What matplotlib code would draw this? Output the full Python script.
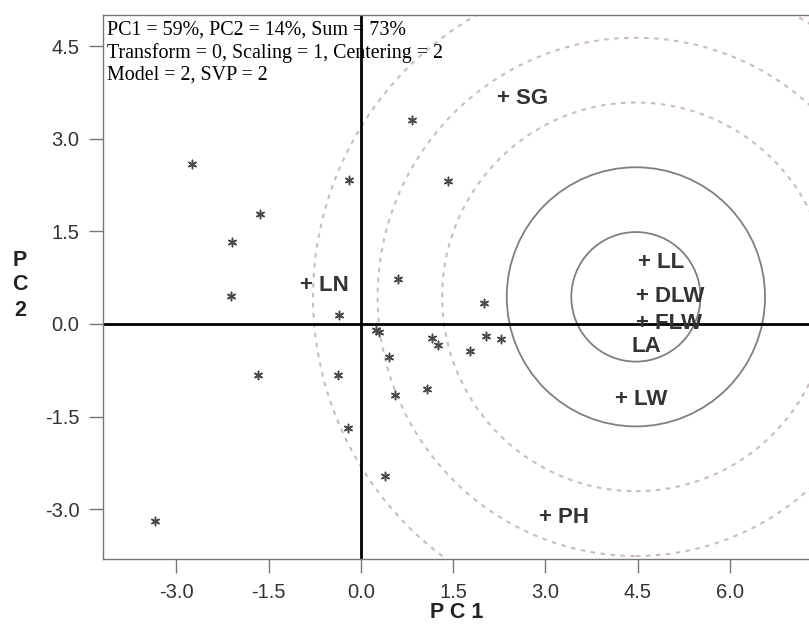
import numpy as np
import matplotlib.pyplot as plt
from matplotlib.patches import Circle

# genotype scores (asterisks)
geno_x = [-2.75, -0.19, 0.83, -1.65, -2.10, -2.11, -0.35, 0.61, 0.25, 0.30, 1.16, 1.26,
          1.42, 2.00, 2.03, 2.28, 1.77, 0.46, -0.37, -1.67, 1.07, 0.56, -0.21, 0.39, -3.35]
geno_y = [2.59, 2.33, 3.31, 1.78, 1.33, 0.45, 0.15, 0.73, -0.10, -0.13, -0.22, -0.34,
          2.31, 0.34, -0.19, -0.25, -0.43, -0.53, -0.83, -0.83, -1.05, -1.15, -1.69, -2.46, -3.20]

# trait vectors (plus markers)
traits = ["SG", "LN", "LL", "DLW", "FLW", "LA", "LW", "PH"]
trait_x = [2.31, -0.89, 4.60, 4.58, 4.58, 4.58, 4.24, 2.99]
trait_y = [3.66, 0.63, 0.99, 0.44, 0.01, 0.01, -1.23, -3.13]

center = (4.47, 0.44)
ring_unit = 1.05
ring_count = [1, 2, 3, 4, 5]

xticks = [-3.0, -1.5, 0.0, 1.5, 3.0, 4.5, 6.0]
yticks = [-3.0, -1.5, 0.0, 1.5, 3.0, 4.5]

info_lines = ["PC1 = 59%, PC2 = 14%, Sum = 73%",
              "Transform = 0, Scaling = 1, Centering = 2",
              "Model = 2, SVP = 2"]

fig = plt.figure(figsize=(8.09, 6.4), dpi=100)
ax = fig.add_axes([103 / 809, 1 - 559 / 640, 706 / 809, 544 / 640])
ax.set_xlim(-4.195, 7.285)
ax.set_ylim(-3.809, 5.008)

for k in ring_count:
    if k <= 2:
        c = Circle(center, k * ring_unit, fill=False, ec="#7f7f7f", lw=1.3, zorder=1)
    else:
        c = Circle(center, k * ring_unit, fill=False, ec="#cdbcbf", lw=1.5,
                   ls=(0, (2.2, 2.6)), zorder=1)
    ax.add_patch(c)

ax.axhline(0, color="black", lw=2, zorder=2)
ax.axvline(0, color="black", lw=2, zorder=2)

ax.scatter(geno_x, geno_y, marker=(6, 2, 0), s=36, color="#4a4a4a", lw=1.1, zorder=3)

sans = ["Liberation Sans", "DejaVu Sans"]
for name, x, y in zip(traits, trait_x, trait_y):
    if name == "LA":
        ax.annotate("LA", (x, y), xytext=(-8, -9), textcoords="offset points",
                    ha="left", va="top", fontsize=16, fontweight="bold",
                    color="#333333", family=sans, zorder=4)
        continue
    ax.annotate("+ " + name, (x, y), xytext=(-4.5, 0), textcoords="offset points",
                ha="left", va="center", fontsize=16, fontweight="bold",
                color="#333333", family=sans, zorder=4)

ax.set_xticks(xticks)
ax.set_yticks(yticks)
ax.set_xticklabels([f"{t:.1f}" for t in xticks])
ax.set_yticklabels([f"{t:.1f}" for t in yticks])
ax.tick_params(length=10, width=1, color="#777777", labelcolor="#333333",
               labelsize=14.5, pad=7)
for lab in ax.get_xticklabels() + ax.get_yticklabels():
    lab.set_family(sans)
for side in ["left", "bottom", "top"]:
    ax.spines[side].set_color("#777777")
    ax.spines[side].set_linewidth(1)
ax.spines["right"].set_visible(False)

ax.text(4 / 706, 1 - 6 / 544, "\n".join(info_lines), transform=ax.transAxes,
        ha="left", va="top", fontsize=14.4, family=["Liberation Serif", "DejaVu Serif"],
        linespacing=1.2, zorder=5)

fig.text(457 / 809, 1 - 613 / 640, "P C 1", ha="center", va="center", fontsize=15.5,
         fontweight="bold", family=sans, color="#222222")
fig.text(20 / 809, 1 - 285 / 640, "P\nC\n2", ha="center", va="center", fontsize=15.5,
         fontweight="bold", family=sans, color="#222222", linespacing=1.25)

fig.savefig("out.png", dpi=100)
